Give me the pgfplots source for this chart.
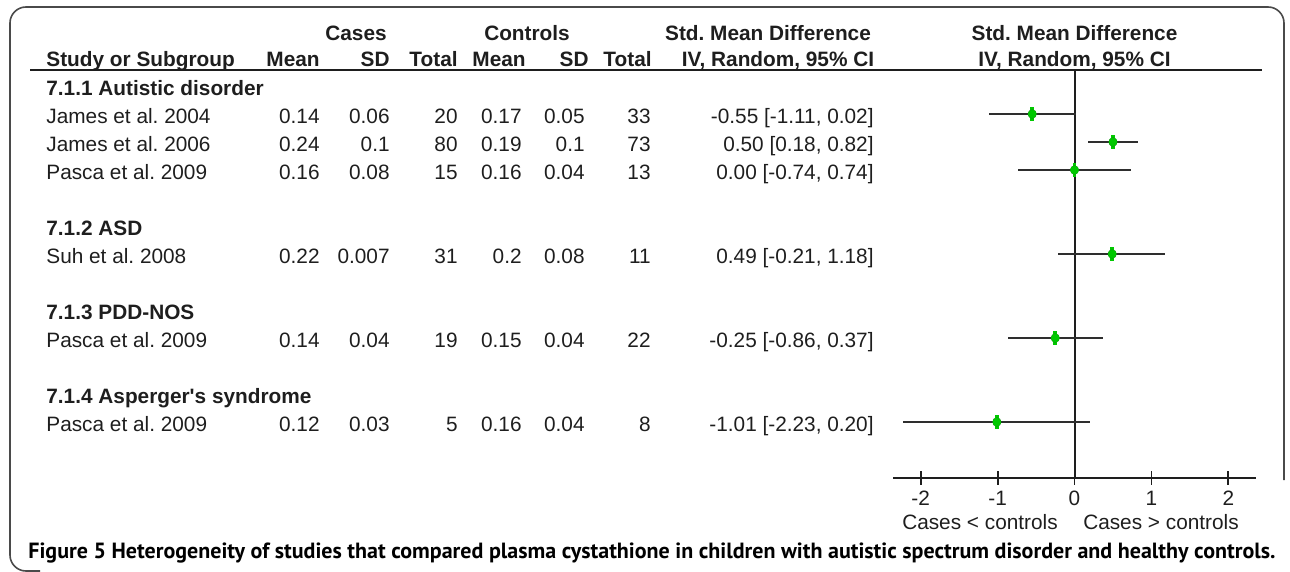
\documentclass[border=0pt]{standalone}
\usepackage{pgfplots}
\pgfplotsset{compat=1.18}
\usepackage{pgfplotstable}
\usepackage{graphicx}
\usepackage{fontspec}
\setmainfont{Liberation Sans}
\newfontfamily\capfont{PT Sans}
\definecolor{txt}{HTML}{1E1E1E}
\definecolor{cigray}{HTML}{2E2E2E}
\definecolor{ptgreen}{HTML}{00C800}
\definecolor{frame}{HTML}{4A4A4A}

% pos = -(row index); est, lower and upper 95% CI
\pgfplotstableread{
pos est lo hi
-1 -0.55 -1.11 0.02
-2 0.50 0.18 0.82
-3 0.00 -0.74 0.74
-6 0.49 -0.21 1.18
-9 -0.25 -0.86 0.37
-12 -1.01 -2.23 0.20
}\smd

\begin{document}
\frenchspacing
\fontsize{10.4}{12.5}\selectfont
\begin{tikzpicture}[x=0.5pt,y=-0.5pt,
  L/.style={anchor=base west,inner sep=0pt,text=txt},
  R/.style={anchor=base east,inner sep=0pt,text=txt},
  C/.style={anchor=base,inner sep=0pt,text=txt}]
\useasboundingbox (0,0) rectangle (1290,572);
\draw[line width=0.8pt, draw=frame, rounded corners=8pt] (1284,480) -- (1284,7) -- (10,7) -- (10,571) -- (40,571);

% header
\node[C,font=\bfseries] at (356,40.5) {Cases};
\node[C,font=\bfseries] at (527,40.5) {Controls};
\node[C,font=\bfseries] at (768,40.5) {Std. Mean Difference};
\node[C,font=\bfseries] at (1074.5,40.5) {Std. Mean Difference};
\node[L,font=\bfseries] at (46,66.5) {Study or Subgroup};
\node[R,font=\bfseries] at (320,66.5) {Mean};
\node[R,font=\bfseries] at (390,66.5) {SD};
\node[R,font=\bfseries] at (458,66.5) {Total};
\node[R,font=\bfseries] at (526,66.5) {Mean};
\node[R,font=\bfseries] at (589,66.5) {SD};
\node[R,font=\bfseries] at (652,66.5) {Total};
\node[C,font=\bfseries] at (778,66.5) {IV, Random, 95\% CI};
\node[C,font=\bfseries] at (1074.5,66.5) {IV, Random, 95\% CI};
\draw[line width=1pt, txt] (30,70) -- (1262,70);

% groups
\node[L,font=\bfseries] at (46,95.5) {7.1.1 Autistic disorder};
\node[L,font=\bfseries] at (46,235.5) {7.1.2 ASD};
\node[L,font=\bfseries] at (46,319.5) {7.1.3 PDD-NOS};
\node[L,font=\bfseries] at (46,403.5) {7.1.4 Asperger\textquotesingle s syndrome};

% rows
\foreach \y/\n/\a/\b/\c/\d/\e/\f/\g in {
 123.5/James et al. 2004/0.14/0.06/20/0.17/0.05/33/{-0.55 [-1.11, 0.02]},
 151.5/James et al. 2006/0.24/0.1/80/0.19/0.1/73/{0.50 [0.18, 0.82]},
 179.5/Pasca et al. 2009/0.16/0.08/15/0.16/0.04/13/{0.00 [-0.74, 0.74]},
 263.5/Suh et al. 2008/0.22/0.007/31/0.2/0.08/11/{0.49 [-0.21, 1.18]},
 347.5/Pasca et al. 2009/0.14/0.04/19/0.15/0.04/22/{-0.25 [-0.86, 0.37]},
 431.5/Pasca et al. 2009/0.12/0.03/5/0.16/0.04/8/{-1.01 [-2.23, 0.20]}}{
  \node[L] at (46,\y) {\n};
  \node[R] at (320,\y) {\a};
  \node[R] at (390,\y) {\b};
  \node[R] at (458,\y) {\c};
  \node[R] at (522,\y) {\d};
  \node[R] at (585,\y) {\e};
  \node[R] at (651,\y) {\f};
  \node[R] at (874,\y) {\g};
}

\begin{axis}[
  at={(446.5pt,-238.75pt)}, anchor=south west,
  scale only axis, width=181.5pt, height=203.75pt,
  xmin=-2.36, xmax=2.36, ymin=-13.982, ymax=0.5714,
  axis x line=bottom, axis y line=none,
  x axis line style={-, line width=1pt, draw=txt},
  xtick={-2,-1,0,1,2}, xticklabels={-2,-1,0,1,2},
  tick align=center, major tick length=7pt,
  x tick style={line width=0.9pt, draw=txt},
  xticklabel style={anchor=base, text=txt, inner sep=0pt, yshift=-10.25pt},
  ytick=\empty,
  clip=false,
]
\addplot[txt, line width=1pt, mark=none] coordinates {(0,0.5714) (0,-13.982)};
\addplot[cigray, only marks, mark=none,
  error bars/.cd, x dir=both, x explicit, error mark=none,
  error bar style={line width=0.85pt, draw=cigray}]
  table[x=est, y=pos, x error plus expr=\thisrow{hi}-\thisrow{est}, x error minus expr=\thisrow{est}-\thisrow{lo}] {\smd};
\addplot[ptgreen, only marks, mark=none,
  error bars/.cd, y dir=both, y fixed=0.26, error mark=none,
  error bar style={line width=1.8pt, draw=ptgreen, line cap=butt}]
  table[x=est, y=pos] {\smd};
\end{axis}

\node[C] at (980,529.5) {Cases < controls};
\node[C] at (1161,529.5) {Cases > controls};

\node[anchor=base west, inner sep=0pt, text=black] at (28,558.5)
  {\resizebox{623.5pt}{!}{\capfont\bfseries Figure 5 Heterogeneity of studies that compared plasma cystathione in children with autistic spectrum disorder and healthy controls.}};
\end{tikzpicture}
\end{document}
